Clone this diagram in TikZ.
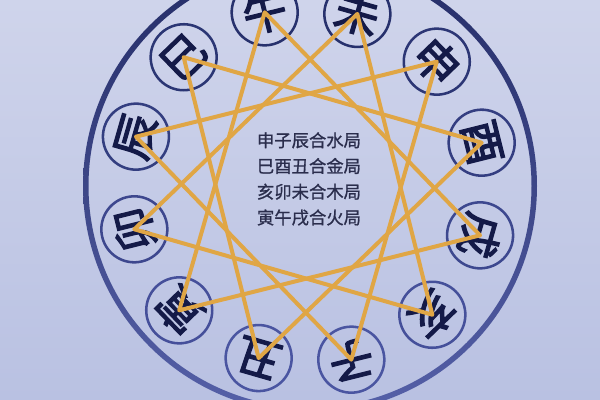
\documentclass[tikz,border=0pt]{standalone}
\usepackage{fontspec}
\newfontfamily\cjk[FakeBold=1]{Noto Sans CJK SC}
\newfontfamily\cjkbold[FakeBold=3]{Noto Sans CJK SC}
\usetikzlibrary{calc}
\definecolor{bgtop}{HTML}{CFD4EB}
\definecolor{bgbot}{HTML}{B9C1E2}
\definecolor{circtop}{HTML}{26306C}
\definecolor{circbot}{HTML}{4A55A2}
\definecolor{ringtop}{HTML}{242C66}
\definecolor{ringbot}{HTML}{5560A8}
\definecolor{glyph}{HTML}{141A48}
\definecolor{gold}{HTML}{E0A645}
\definecolor{txt}{HTML}{2A2D4C}
\begin{document}
\begin{tikzpicture}[x=0.75pt,y=-0.75pt,
  branch/.style={circle, line width=1.9pt, minimum size=49.5pt,
    inner sep=0pt, text=glyph, font=\cjkbold\fontsize{33}{33}\selectfont},
  starline/.style={draw=gold, line width=3pt, line join=round, line cap=round},
  centertext/.style={text=txt, font=\cjk\fontsize{13}{19.3}\selectfont, align=center, inner sep=0pt}
]
\useasboundingbox (0,0) rectangle (600,400);
\shade[top color=bgtop, bottom color=bgbot] (0,0) rectangle (600,400);
\coordinate (c) at (310,186);
\shade[top color=ringtop, bottom color=ringbot, even odd rule]
  (c) circle [radius=227] (c) circle [radius=221.5];
\foreach \ch [count=\k from 0] in {酉,申,未,午,巳,辰,卯,寅,丑,子,亥,戌} {
  \pgfmathsetmacro\a{14+30*\k}
  \pgfmathtruncatemacro\t{50+50*sin(\a)}
  \node[branch, draw=circtop!\t!circbot, rotate=\a-90] (n\k) at ({308+179*cos(\a)},{186-179*sin(\a)}) {\ch};
}
\foreach \i in {0,1,2,3} {
  \pgfmathtruncatemacro\j{\i+4}
  \pgfmathtruncatemacro\m{\i+8}
  \draw[starline] (n\i.center) -- (n\j.center) -- (n\m.center) -- cycle;
}
\node[centertext] (t) at (309,179) {申子辰合水局\\巳酉丑合金局\\亥卯未合木局\\寅午戌合火局};
\end{tikzpicture}
\end{document}
